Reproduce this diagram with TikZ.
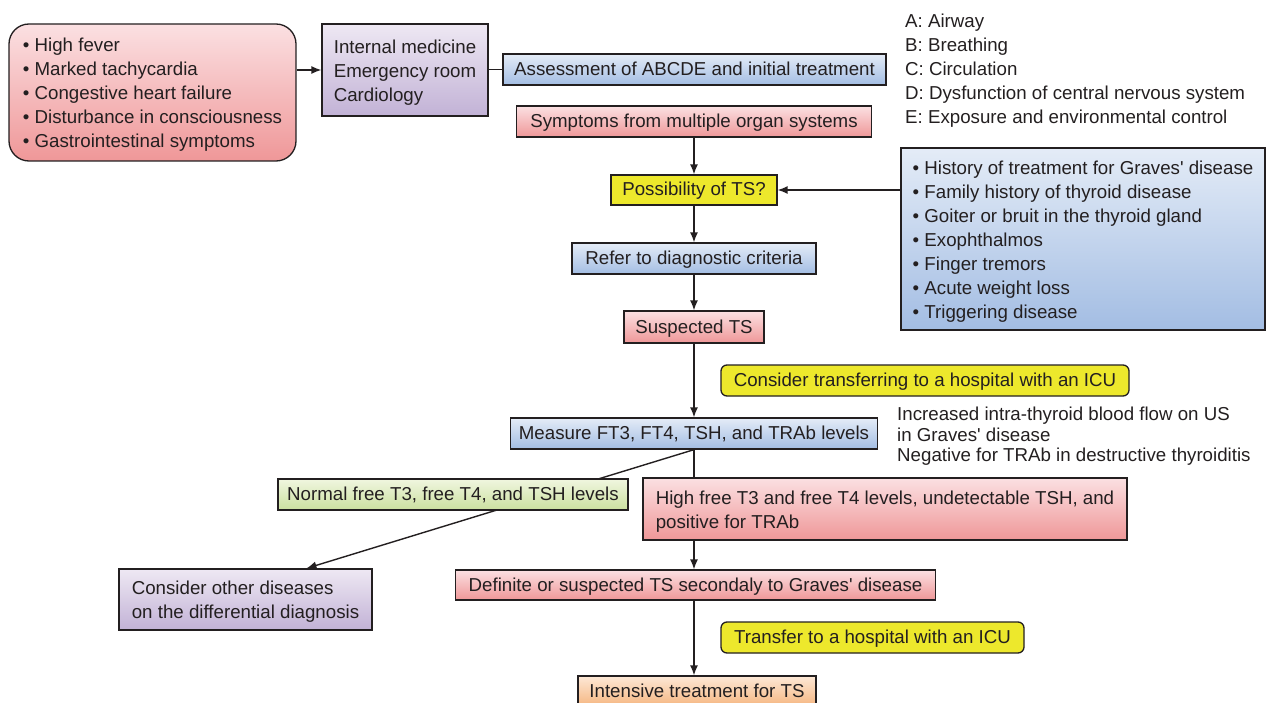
\documentclass[tikz,border=0pt]{standalone}
\usepackage{fontspec}
\newfontfamily\lsans{Liberation Sans}
\usetikzlibrary{arrows.meta,backgrounds}
\definecolor{txt}{HTML}{231F20}
\definecolor{edge}{HTML}{231F20}
\definecolor{redT}{HTML}{FBE0E2}
\definecolor{redB}{HTML}{EF9798}
\definecolor{purT}{HTML}{EEE8F3}
\definecolor{purB}{HTML}{C2B2D6}
\definecolor{bluT}{HTML}{E4ECF7}
\definecolor{bluB}{HTML}{A3BDE3}
\definecolor{grnT}{HTML}{F0F6DF}
\definecolor{grnB}{HTML}{CBE0A0}
\definecolor{yel}{HTML}{EDE82C}
\definecolor{orT}{HTML}{FDE8D6}
\definecolor{orB}{HTML}{F5B57F}
\newcommand\firstup{\rule{0pt}{18.6pt}}
\begin{document}
\begin{tikzpicture}[x=1pt,y=-1pt,
  fnt/.style={font=\lsans\fontsize{18.7}{24}\selectfont, text=txt},
  box/.style={fnt, draw=edge, line width=1.3pt, inner sep=0pt},
  one/.style={text height=13pt, text depth=1pt},
  fillred/.style={top color=redT,bottom color=redB},
  fillpur/.style={top color=purT,bottom color=purB},
  fillblu/.style={top color=bluT,bottom color=bluB},
  fillgrn/.style={top color=grnT,bottom color=grnB},
  fillor/.style={top color=orT,bottom color=orB},
  fillyel/.style={fill=yel},
  arr/.style={line width=1.4pt, draw=edge, -{Latex[length=10pt,width=8pt]}},
  ln/.style={line width=1.4pt, draw=edge}
]
\useasboundingbox (0,0) rectangle (1266,703);
\clip (0,0) rectangle (1266,703);

\node[box,fillred,rounded corners=20,minimum width=287,minimum height=137,align=left] (sym) at (152.5,92.5)
 {\firstup\textbullet\ High fever\\ \textbullet\ Marked tachycardia\\ \textbullet\ Congestive heart failure\\ \textbullet\ Disturbance in consciousness\\ \textbullet\ Gastrointestinal symptoms};
\node[box,fillpur,minimum width=166,minimum height=92,align=left] (dept) at (405,70)
 {\firstup Internal medicine\\ Emergency room\\ Cardiology};
\node[box,one,fillblu,minimum width=383,minimum height=31] (assess) at (694.5,69.5)
 {Assessment of ABCDE and initial treatment};
\node[fnt,anchor=west,align=left,inner sep=0pt] (abc) at (905,70.5)
 {A: Airway\\ B: Breathing\\ C: Circulation\\ D: Dysfunction of central nervous system\\ E: Exposure and environmental control};
\node[box,one,fillred,minimum width=355,minimum height=31] (multi) at (694,121.5)
 {Symptoms from multiple organ systems};
\node[box,one,fillyel,minimum width=166,minimum height=30] (poss) at (694,190)
 {Possibility of TS?};
\node[box,fillblu,minimum width=364,minimum height=182,align=left] (risk) at (1083,239)
 {\firstup\textbullet\ History of treatment for Graves' disease\\ \textbullet\ Family history of thyroid disease\\ \textbullet\ Goiter or bruit in the thyroid gland\\ \textbullet\ Exophthalmos\\ \textbullet\ Finger tremors\\ \textbullet\ Acute weight loss\\ \textbullet\ Triggering disease};
\node[box,one,fillblu,minimum width=244,minimum height=31] (refer) at (694,258.5)
 {Refer to diagnostic criteria};
\node[box,one,fillred,minimum width=140,minimum height=32] (susp) at (694,327)
 {Suspected TS};
\node[box,one,fillyel,rounded corners=6,minimum width=408,minimum height=31] (consT) at (925,380.5)
 {Consider transferring to a hospital with an ICU};
\node[box,one,fillblu,minimum width=367,minimum height=31] (measure) at (694,433.5)
 {Measure FT3, FT4, TSH, and TRAb levels};
\node[fnt,font=\lsans\fontsize{18.7}{20.5}\selectfont,anchor=west,align=left,inner sep=0pt] (note) at (897,436.5)
 {Increased intra-thyroid blood flow on US\\ in Graves' disease\\ Negative for TRAb in destructive thyroiditis};
\node[box,one,fillgrn,minimum width=350,minimum height=31] (normal) at (453,494.5)
 {Normal free T3, free T4, and TSH levels};
\node[box,fillred,minimum width=484,minimum height=62,align=left] (high) at (885,509)
 {\firstup High free T3 and free T4 levels, undetectable TSH, and\\ positive for TRAb};
\node[box,fillpur,minimum width=253,minimum height=61,align=left] (other) at (245.5,599.5)
 {\firstup Consider other diseases\\ on the differential diagnosis};
\node[box,one,fillred,minimum width=480,minimum height=30] (definite) at (695.5,585)
 {Definite or suspected TS secondaly to Graves' disease};
\node[box,one,fillyel,rounded corners=6,minimum width=303,minimum height=31] (transfer) at (872.5,637.5)
 {Transfer to a hospital with an ICU};
\node[box,one,fillor,minimum width=238,minimum height=31] (intensive) at (697,691.5)
 {Intensive treatment for TS};

\begin{scope}[on background layer]
\draw[arr] (sym.east |- dept.west) -- (dept.west);
\draw[ln] (dept.east |- assess.west) -- (assess.west);
\draw[arr] (multi.south) -- (poss.north);
\draw[arr] (risk.west |- poss.east) -- (poss.east);
\draw[arr] (poss.south) -- (refer.north);
\draw[arr] (refer.south) -- (susp.north);
\draw[arr] (susp.south) -- (measure.north);
\draw[ln] (measure.south) -- (measure.south |- high.north);
\draw[arr] (measure.south |- high.south) -- (measure.south |- definite.north);
\draw[arr] (measure.south |- definite.south) -- (measure.south |- intensive.north);
\draw[arr] (measure.south) -- ([xshift=61pt]other.north);
\end{scope}
\end{tikzpicture}
\end{document}
